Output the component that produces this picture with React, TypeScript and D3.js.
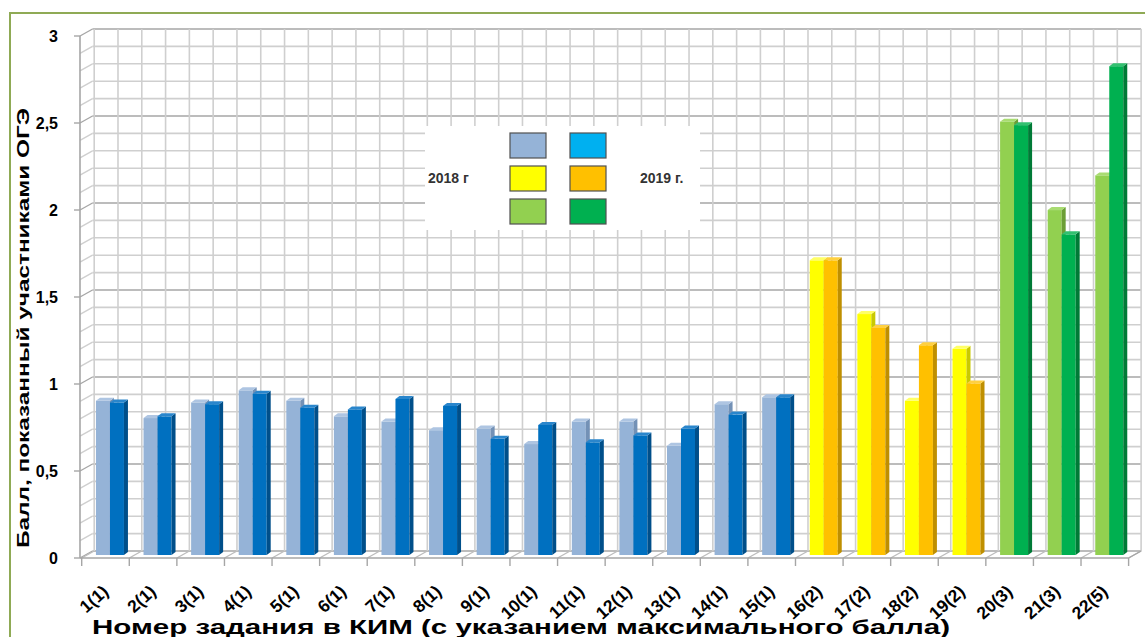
import React from "react";
import * as d3 from "d3";

const categories = ["1(1)","2(1)","3(1)","4(1)","5(1)","6(1)","7(1)","8(1)","9(1)","10(1)","11(1)","12(1)","13(1)","14(1)","15(1)","16(2)","17(2)","18(2)","19(2)","20(3)","21(3)","22(5)"];
const values2018 = [0.89,0.79,0.88,0.95,0.89,0.80,0.77,0.72,0.73,0.64,0.77,0.77,0.63,0.87,0.91,1.70,1.39,0.89,1.19,2.50,1.99,2.19];
const values2019 = [0.88,0.80,0.87,0.93,0.85,0.84,0.90,0.86,0.67,0.75,0.65,0.69,0.73,0.81,0.91,1.70,1.31,1.21,0.99,2.48,1.85,2.82];
const groups = ["b","b","b","b","b","b","b","b","b","b","b","b","b","b","b","y","y","y","y","g","g","g"];
const yTicks = [0, 0.5, 1, 1.5, 2, 2.5, 3];
const yTickLabels = ["0", "0,5", "1", "1,5", "2", "2,5", "3"];
const legendLeft = "2018 г";
const legendRight = "2019 г.";
const yTitle = "Балл, показанный участниками ОГЭ";
const xTitle = "Номер задания в КИМ (с указанием максимального  балла)";

const palette: Record<string, { a: string; aS: string; aT: string; b: string; bS: string; bT: string; la: string; lb: string }> = {
  b: { a: "#95b3d7", aS: "#7391b6", aT: "#aec5e2", b: "#0070c0", bS: "#004f8a", bT: "#2a86cc", la: "#95b3d7", lb: "#00b0f0" },
  y: { a: "#ffff00", aS: "#c9c900", aT: "#ffff66", b: "#ffc000", bS: "#bf8f00", bT: "#ffd040", la: "#ffff00", lb: "#ffc000" },
  g: { a: "#92d050", aS: "#6c9e36", aT: "#a9dc72", b: "#00b050", bS: "#007a36", bT: "#33c070", la: "#92d050", lb: "#00b050" },
};

const DX = 12.5, DY = -7; // depth of the 3D box
const F = "'Liberation Sans', Arial, sans-serif";

export default function App() {
  const x = d3.scaleBand<string>().domain(categories).range([81.7, 1128.6]).padding(0);
  const y = d3.scaleLinear().domain([0, 3]).range([558, 36]);
  const yb = d3.scaleLinear().domain([0, 3]).range([555, 35]);
  const bw = x.bandwidth();
  const minor = d3.range(0, 31).map((i) => i / 10);
  const halfs = d3.range(0, categories.length * 2 + 1);

  const bar = (x0: number, v: number, front: string, side: string, top: string, key: string) => {
    const w = 14, d = 4, h = 3;
    const y0 = yb(0), y1 = yb(v);
    return (
      <g key={key}>
        <rect x={x0} y={y1} width={w} height={y0 - y1} fill={front} />
        <polygon points={`${x0 + w},${y1} ${x0 + w + d},${y1 - h} ${x0 + w + d},${y0 - h} ${x0 + w},${y0}`} fill={side} />
        <polygon points={`${x0},${y1} ${x0 + d},${y1 - h} ${x0 + w + d},${y1 - h} ${x0 + w},${y1}`} fill={top} />
      </g>
    );
  };

  return (
    <svg width={1145} height={637} style={{ position: "absolute", left: 0, top: 0, background: "#fff" }} fontFamily={F}>
      <rect x={10} y={13} width={1160} height={660} fill="#fff" stroke="#8faa55" strokeWidth={2} />
      {minor.map((v, i) => (
        <g key={"h" + i}>
          <line x1={80 + DX} x2={x.range()[1] + DX} y1={y(v) + DY} y2={y(v) + DY}
            stroke={i % 5 === 0 ? "#a6a6a6" : "#cfcfcf"} strokeWidth={1.6} />
          <line x1={80} x2={80 + DX} y1={y(v)} y2={y(v) + DY} stroke={i % 5 === 0 ? "#a6a6a6" : "#cfcfcf"} strokeWidth={1.4} />
        </g>
      ))}
      {halfs.map((k) => {
        const xv = x.range()[0] + (k * bw) / 2 + DX;
        return <line key={"v" + k} x1={xv} x2={xv} y1={y(3) + DY} y2={y(0) + DY} stroke="#cfcfcf" strokeWidth={1.6} />;
      })}
      {d3.range(0, categories.length + 1).map((k) => {
        const xv = x.range()[0] + k * bw;
        return (
          <g key={"f" + k}>
            <line x1={xv} x2={xv + DX} y1={y(0)} y2={y(0) + DY} stroke="#bdbdbd" strokeWidth={1.4} />
            <line x1={xv} x2={xv} y1={y(0)} y2={y(0) + 8} stroke="#a6a6a6" strokeWidth={1.4} />
          </g>
        );
      })}
      <line x1={80} x2={80} y1={y(3)} y2={y(0)} stroke="#a6a6a6" strokeWidth={1.6} />
      <line x1={80} x2={x.range()[1]} y1={y(0)} y2={y(0)} stroke="#a6a6a6" strokeWidth={1.6} />
      <line x1={x.range()[1]} x2={x.range()[1] + DX} y1={y(0)} y2={y(0) + DY} stroke="#a6a6a6" strokeWidth={1.4} />
      {yTicks.map((v, i) => (
        <g key={"yt" + i}>
          <line x1={74} x2={80} y1={y(v)} y2={y(v)} stroke="#a6a6a6" strokeWidth={1.4} />
          <text x={58} y={y(v) + 5.5} textAnchor="end" fontSize={16} fontWeight="bold" fill="#000">{yTickLabels[i]}</text>
        </g>
      ))}
      <rect x={425} y={126} width={275} height={104} fill="#fff" />
      {categories.map((c, i) => {
        const p = palette[groups[i]];
        const x0 = (x(c) as number) + DX / 2 + 8;
        return (
          <g key={"c" + i}>
            {bar(x0, values2018[i], p.a, p.aS, p.aT, "a" + i)}
            {bar(x0 + 14, values2019[i], p.b, p.bS, p.bT, "b" + i)}
          </g>
        );
      })}
      {["b", "y", "g"].map((gk, r) => (
        <g key={"lg" + r}>
          <rect x={510} y={133 + r * 33} width={36} height={25} fill={palette[gk].la} stroke="#505050" strokeWidth={1.2} />
          <rect x={570} y={133 + r * 33} width={36} height={25} fill={palette[gk].lb} stroke="#505050" strokeWidth={1.2} />
        </g>
      ))}
      <text x={428} y={183} fontSize={14} fontWeight="bold" fill="#333">{legendLeft}</text>
      <text x={640} y={183} fontSize={14} fontWeight="bold" fill="#333">{legendRight}</text>
      {categories.map((c, i) => {
        const cx = (x(c) as number) + bw / 2 + 4;
        return (
          <text key={"xl" + i} transform={`translate(${cx},593) rotate(-42)`} textAnchor="end" fontSize={17.5} fontWeight="bold" fill="#000">{c}</text>
        );
      })}
      <text x={92} y={634} textLength={858} lengthAdjust="spacingAndGlyphs" fontSize={20} fontWeight="bold" fill="#000">{xTitle}</text>
      <text transform="translate(29,548) rotate(-90)" textLength={440} lengthAdjust="spacingAndGlyphs" fontSize={16} fontWeight="bold" fill="#000">{yTitle}</text>
    </svg>
  );
}
